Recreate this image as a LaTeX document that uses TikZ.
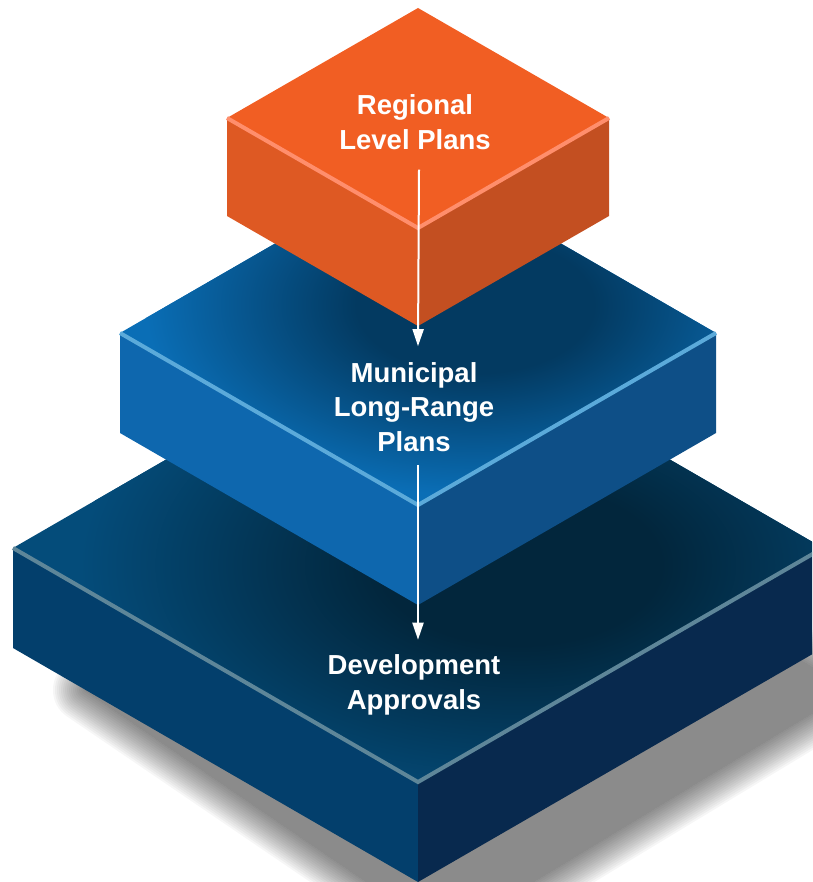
\documentclass[tikz,border=0pt]{standalone}
\usepackage{fontspec}
\setmainfont{Liberation Sans}
\usetikzlibrary{arrows.meta,calc}
\definecolor{oTop}{HTML}{F15E23}
\definecolor{oLeft}{HTML}{DE5923}
\definecolor{oRight}{HTML}{C34F21}
\definecolor{oEdge}{HTML}{FF8E6C}
\definecolor{mDark}{HTML}{033A61}
\definecolor{mBright}{HTML}{0A6EB6}
\definecolor{mLeft}{HTML}{0E67AE}
\definecolor{mRight}{HTML}{0E4F87}
\definecolor{mEdge}{HTML}{5BAADA}
\definecolor{bDark}{HTML}{02263C}
\definecolor{bBright}{HTML}{044C7A}
\definecolor{bLeft}{HTML}{033F6C}
\definecolor{bRight}{HTML}{08294E}
\definecolor{bEdge}{HTML}{5E8699}
\pgfdeclareradialshading{midglow}{\pgfpoint{0bp}{0bp}}{color(0bp)=(mDark); color(9bp)=(mDark); color(25bp)=(mBright); color(50bp)=(mBright)}
\pgfdeclareradialshading{botglow}{\pgfpoint{0bp}{0bp}}{color(0bp)=(bDark); color(8bp)=(bDark); color(25bp)=(bBright); color(50bp)=(bBright)}
\begin{document}
\begin{tikzpicture}[x=1pt,y=-1pt,
  lbl/.style={text=white, font=\fontsize{27.5}{34.5}\selectfont\bfseries, align=center, inner sep=0pt},
  arr/.style={draw=white, line width=2pt, -{Triangle[length=17pt,width=11pt]}},
  edgeline/.style={line width=4pt, line join=miter}]
\useasboundingbox (0,0) rectangle (812,882);
\clip (0,0) rectangle (812,882);
% shadow
\foreach \w in {64,60,...,0} {
  \begin{scope}[transparency group, opacity=0.036]
    \filldraw[black, line width=\w pt, line join=round] (445,445)--(85,690)--(445,935)--(850,690)--cycle;
  \end{scope}
}
% bottom box
\fill[bLeft] (13,548)--(418,782)--(418,882)--(13,648)--cycle;
\fill[bRight] (418,782)--(823,548)--(823,648)--(418,882)--cycle;
\begin{scope}
  \clip (418,314)--(13,548)--(418,782)--(823,548)--cycle;
  \fill[bBright] (0,300) rectangle (812,790);
  \shade[shading=botglow] (520,565) ellipse (440pt and 250pt);
\end{scope}
\draw[edgeline, bEdge] (13,548)--(418,782)--(823,548);
% middle box
\fill[mLeft] (120,333)--(418,505)--(418,605)--(120,433)--cycle;
\fill[mRight] (418,505)--(716,333)--(716,433)--(418,605)--cycle;
\begin{scope}
  \clip (418,161)--(120,333)--(418,505)--(716,333)--cycle;
  \fill[mBright] (100,150) rectangle (730,510);
  \shade[shading=midglow] (475,305) ellipse (330pt and 190pt);
\end{scope}
\draw[edgeline, mEdge] (120,333)--(418,505)--(716,333);
% top box
\fill[oLeft] (227,118)--(418,228)--(418,326)--(227,216)--cycle;
\fill[oRight] (418,228)--(609,118)--(609,216)--(418,326)--cycle;
\fill[oTop] (418,8)--(227,118)--(418,228)--(609,118)--cycle;
\draw[edgeline, oEdge] (227,118)--(418,228)--(609,118);
% labels
\node[lbl] (reg) at (415,122) {Regional\\Level Plans};
\node[lbl] (mun) at (414,407) {Municipal\\Long-Range\\Plans};
\node[lbl] (dev) at (414,685) {Development\\Approvals};
% arrows
\draw[arr] ($(reg.south)+(4,20)$) -- ($(mun.north)+(4,-16)$);
\draw[arr] ($(mun.south)+(4,13)$) -- ($(dev.north)+(4,-15)$);
\end{tikzpicture}
\end{document}
